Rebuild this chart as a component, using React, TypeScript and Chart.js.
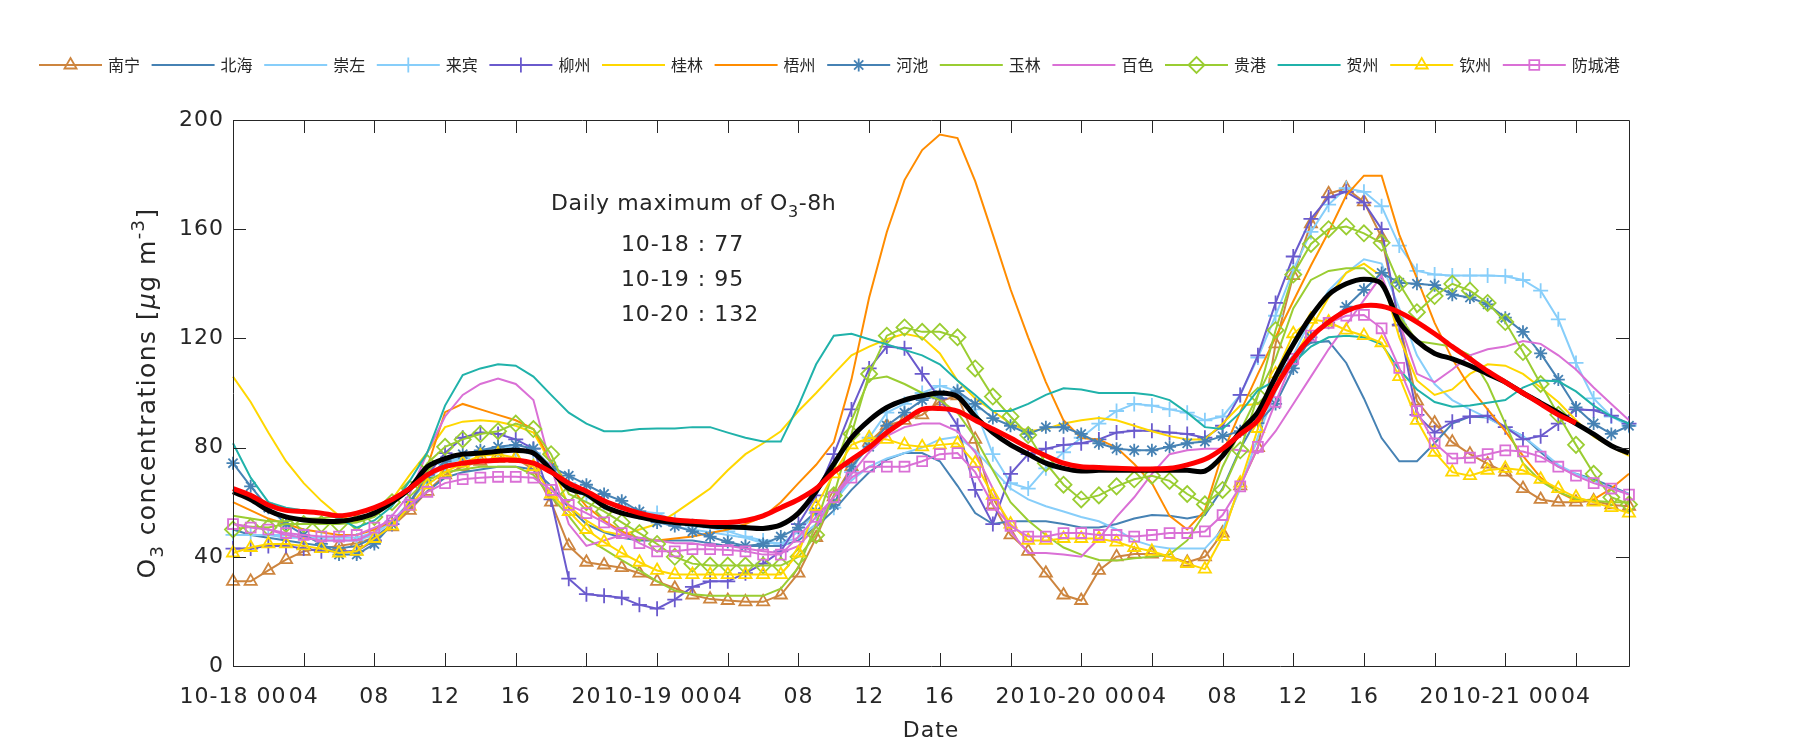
import React, { useEffect, useRef } from 'react';
import { Chart, registerables } from 'chart.js';
import { drawPoint } from 'chart.js/helpers';

Chart.register(...registerables);

// ---------------- DATA ----------------
const hours = Array.from({ length: 80 }, (_, i) => i); // 10-18 00 .. 10-21 07, hourly

const xTickHours = [0, 4, 8, 12, 16, 20, 24, 28, 32, 36, 40, 44, 48, 52, 56, 60, 64, 68, 72, 76];
const xTickLabels = ['10-18 00', '04', '08', '12', '16', '20', '10-19 00', '04', '08', '12', '16', '20',
  '10-20 00', '04', '08', '12', '16', '20', '10-21 00', '04'];
const yTickValues = [0, 40, 80, 120, 160, 200];

const stationNames = ['南宁', '北海', '崇左', '来宾', '柳州', '桂林', '梧州', '河池', '玉林', '百色', '贵港', '贺州', '钦州', '防城港'];

const nanning = [31, 31, 35, 39, 42, 43, 44, 45, 47, 51, 57,
  64, 70, 73, 75, 76, 76, 72, 60, 44,
  38, 37, 36, 34, 31, 28.5, 26, 24.5, 24, 23.5,
  23.5, 26, 34, 47, 62, 73, 82, 88, 90,
  92, 97, 99, 83, 59, 48, 42, 34, 26, 24,
  35, 40, 41, 41, 40, 38, 40, 48.7, 66, 80,
  118, 143, 162, 173, 175, 170, 157, 126, 97,
  89, 82, 77.6, 74, 71, 65, 61, 60, 60, 60.5, 59, 58.5];
const beihai = [50, 48, 47, 46, 45, 44, 43, 44, 47, 52, 58,
  64, 69, 71, 72, 73, 73, 72, 66, 58,
  52, 49, 47, 46, 46, 46, 46, 45, 44, 44,
  44, 44, 46, 51, 57, 64.5, 71, 75.6, 78,
  78, 75, 66, 56, 52, 53, 53, 53, 52, 50.7,
  50.7, 52, 54, 55.3, 55, 54, 55.3, 65, 79.6, 91,
  104.6, 113.8, 118.4, 119, 111, 98, 83.5, 75, 75,
  81.6, 88.8, 91.4, 91, 87.5, 84.2, 78.3, 73, 70.4, 68.4, 65.8, 63];
const chongzuo = [48, 48, 48, 47, 47, 47, 47, 47, 49, 53, 60,
  68, 74, 77, 79, 80, 80, 78, 72, 66,
  62, 58, 56, 54, 53, 51, 50, 49, 48, 47,
  45, 45, 47, 52, 60, 68, 73, 76, 78,
  80, 83, 84, 79, 72, 65, 61, 58.5, 56.6, 54.6,
  53, 50, 46, 44, 43, 43, 43, 50, 65, 84,
  100.6, 113.8, 127, 137.5, 144, 149, 147.4, 131, 113.8,
  103.3, 97.4, 94, 90.8, 87.5, 84.2, 79, 73.7, 70.4, 67.8, 65, 63];
const laibin = [48, 48, 48, 48, 47, 46, 46, 46, 48, 53, 60,
  68, 74, 76, 78, 79, 79, 78, 73, 67,
  63, 60, 58.5, 56.6, 56, 53.3, 51.3, 50.7, 49.3, 47.4,
  46, 44.7, 49.3, 56, 58, 71, 83.6, 92.8, 96,
  100, 102.6, 100.7, 94, 77.6, 67, 65, 72.4, 78.3, 83.6,
  88.8, 93.4, 96, 95.4, 94, 92.8, 90, 91.4, 99.3, 113,
  128.3, 145, 159, 169, 175, 173.7, 168.4, 154, 144.7,
  143.4, 143, 143, 143, 142.8, 141.4, 137.5, 127, 111, 98, 91.4, 88];
const liuzhou = [43, 43, 44, 44, 43, 42, 42, 42, 46, 52, 60,
  70, 78, 83.6, 85.5, 85, 83, 79.6, 61, 32,
  26.3, 25.7, 25, 22.4, 21, 24.3, 29, 31, 31, 34,
  37.5, 42, 52, 62.5, 77.6, 94, 109, 117, 116.4,
  107, 98, 88, 64.5, 52, 70.4, 77.6, 79.6, 81, 81.6,
  83, 85.5, 86.2, 86.2, 85.5, 85, 83.6, 88, 99.3, 113.8,
  133, 150, 163.8, 171.7, 173.7, 169.7, 160, 125, 92,
  85.5, 89.5, 91.4, 91.7, 87.5, 83, 84.2, 88.8, 94, 93.7, 91.7, 88.8];
const guilin = [106, 96.7, 85.5, 75, 67, 60.5, 55, 53, 56, 61, 70,
  78.3, 87.5, 89.5, 90, 89.5, 88, 85.5, 74.3, 58.5,
  53.3, 49.3, 48, 50, 52, 56, 60.5, 65, 71.7, 77.6,
  81.6, 86, 93.4, 100, 107, 113.8, 117, 119.7, 121.7,
  120.4, 114.5, 104.6, 98, 93.4, 88.8, 86, 86.8, 88.8, 90,
  90.8, 90, 88, 86, 84.2, 83, 83, 88.8, 95.4, 96,
  102, 112.5, 123.7, 135, 144, 147.4, 142.8, 120.4, 104.6,
  99.3, 101.3, 107, 110.5, 110, 107, 102, 96.7, 90, 84, 80.3, 77];
const wuzhou = [60, 57, 54, 52, 50, 49, 48, 48, 50, 53, 58,
  73, 93, 96, 94, 92, 90, 86.8, 75, 66.4,
  58.5, 53.3, 49.3, 46.7, 46, 46.7, 47.4, 48.7, 50, 52,
  54.6, 60, 67, 73.7, 82, 105, 135, 159, 178,
  189, 194.7, 193.4, 177.6, 158, 138, 120.4, 104, 90, 83.5,
  83, 80, 74, 67, 55, 50, 57, 78, 93, 107,
  120.4, 133.6, 146.7, 159, 172.4, 179.6, 179.6, 158, 142,
  125.7, 112.5, 102, 94, 86, 77, 69, 63.8, 60.5, 61, 65, 70.4];
const hechi = [74.3, 65.8, 58, 52, 48, 44.7, 40.8, 40.8, 44.7, 52, 60,
  69, 75, 77.6, 79, 80.3, 81, 79.6, 73, 69.7,
  66.4, 63, 60.5, 56.6, 52.6, 51.3, 49.3, 47.4, 45.4, 44,
  44.7, 47.4, 50.7, 56.6, 59, 73, 80.3, 88, 92.8,
  97.4, 99.3, 100.7, 96, 90.8, 88, 85, 87.5, 87.5, 85,
  81.6, 79.6, 79, 79, 80.3, 81.6, 82.2, 84.2, 86, 89,
  96, 109, 120.4, 125.7, 131.6, 137.8, 144, 140.4, 140,
  139.5, 136, 135, 132.5, 127.6, 122.4, 114.5, 104.9, 94.7, 88.8, 85, 88];
const yulin = [55, 54, 53, 53, 54, 54, 55, 56, 58, 61, 65,
  68, 71, 72, 73, 73, 73, 70, 62, 55,
  46.7, 42.8, 38.8, 35, 31, 27.6, 26.3, 25.7, 25.7, 25.7,
  25.7, 28.3, 36, 52, 71.7, 90, 105, 106, 103.3,
  100, 97.4, 92.8, 83.6, 71.7, 60, 53.3, 48, 43.4, 40.8,
  38.8, 38.6, 39.5, 40, 40.8, 46, 56, 73, 86, 99.3,
  112.5, 131, 141.4, 144.7, 145.7, 145.7, 140, 128.3, 119,
  118, 117, 113.8, 103.3, 88.8, 74.3, 67.8, 63.8, 61.2, 60.5, 60, 60];
const baise = [52, 51, 50, 48, 47, 46, 46, 46, 49, 55, 63,
  78.3, 91.4, 99.3, 103.3, 105.3, 103.3, 97.4, 73, 52,
  44, 46, 48, 47, 46, 45, 45, 44, 44, 43,
  42, 41.4, 44, 51, 62.5, 70.4, 78.3, 84.2, 87.5,
  88.8, 88.8, 86, 78.3, 65, 49.3, 41.4, 41.4, 40.8, 40,
  46.7, 54.6, 61.8, 70.4, 77.6, 79, 79.6, 79.6, 79, 78,
  86, 96, 106, 116, 125, 134, 143, 126, 107,
  104, 108.6, 113.8, 116, 117, 119, 118, 113.8, 108.6, 102, 96, 90];
const guigang = [50, 51, 50.7, 52, 52, 52, 52, 52.6, 54.6, 60, 65,
  74.3, 80.3, 83, 85, 86, 88.8, 86.8, 77.6, 63,
  60, 56.6, 52.6, 48.7, 44.7, 40, 37.5, 36.8, 36.8, 36.8,
  36.8, 36.8, 40, 48, 62.5, 85, 107, 121, 124,
  122.4, 122.4, 120.4, 109, 98.7, 91.4, 84.6, 74.3, 66.4, 61,
  62.5, 65.8, 68.4, 69.7, 67.8, 63, 59.2, 64.5, 79, 99,
  123, 143.4, 154.6, 160, 161, 158.5, 155, 140, 129.6,
  135.5, 140, 137.5, 133, 126, 115, 103.3, 92, 81, 70.4, 61.8, 59.2];
const hezhou = [81.6, 69, 60, 58, 57, 56, 54, 50.7, 53.3, 58.5, 67.8,
  78.3, 95.4, 106.6, 109, 110.5, 110, 106, 99.3, 92.8,
  88.8, 86, 86, 86.8, 87, 87, 87.5, 87.5, 85.5, 83.6,
  82.2, 82.2, 95.4, 110.5, 121, 121.7, 119.7, 117.8, 115.8,
  113.8, 110.5, 104.6, 99.3, 93.4, 93.4, 96, 99.3, 101.7, 101.3,
  100, 100, 100, 99.3, 97.4, 92.8, 87.5, 86.8, 92.8, 101,
  104.6, 111, 117, 120.4, 121, 120.4, 117.8, 108.6, 101.3,
  96.7, 95, 95.4, 96.4, 97.4, 102, 104.6, 104.3, 100.6, 95.4, 91.4, 88.8];
const qinzhou = [41.4, 43.4, 44.7, 44.7, 44, 43, 41.4, 42, 46.7, 51.3, 58.5,
  66.4, 71, 74.3, 77, 77.6, 76.3, 73, 63, 56.6,
  50, 45.4, 41.4, 38, 35, 33.5, 33.5, 33.5, 33.5, 33.5,
  33.5, 33.5, 41.4, 58.5, 70.4, 81, 83.6, 83, 81,
  80.3, 81, 81.6, 74.3, 62.5, 52, 46, 46, 46.7, 46.7,
  46.7, 45.4, 43.4, 42, 40, 37.5, 35.5, 47.4, 67, 87,
  107, 121.7, 127, 126, 123, 121, 118.4, 106, 90,
  78.3, 71, 69.7, 71.7, 72.4, 71.7, 68.4, 65, 61.8, 60, 58, 56];
const fangchenggang = [52, 50.7, 50, 48.7, 48, 47.4, 47.4, 48, 50.7, 53.3, 59,
  63.8, 67, 68.4, 69, 69.3, 69.3, 69, 64.5, 59,
  56, 52.6, 48.7, 45, 42, 42, 42.8, 42.8, 42.5, 42,
  40.8, 40.8, 47.4, 54.6, 61.8, 69, 73, 73, 73,
  75, 77.6, 78, 71, 59, 51.3, 47.4, 47.4, 48.7, 48.7,
  48, 48, 47.4, 48, 48.7, 48.7, 49.3, 55.3, 65.8, 80.3,
  96.7, 112.5, 121, 125.7, 128.3, 128.6, 123.7, 109.2, 93.4,
  81.6, 76, 76.3, 77.6, 79, 78.6, 76.7, 73, 69.7, 67, 65, 62.8];
const blackSeries = [63.8, 61, 57, 54.6, 53.5, 53, 53, 54, 56, 60, 65,
  73, 76, 77.6, 78, 78.7, 79, 78, 71.7, 65,
  63, 58.5, 56, 54.6, 53.3, 52.6, 52, 51.3, 51, 50.7,
  50.4, 51.7, 56, 64, 74, 83.6, 90, 94.7, 97.4,
  99, 100, 98.7, 91.4, 85.5, 81, 77.6, 74.3, 72.4, 71.4,
  71.7, 71.7, 71.7, 71.7, 71.7, 71.7, 71.4, 77, 86, 93,
  106, 117.8, 128, 136, 140, 141.7, 140, 126, 119,
  114.5, 112.5, 110, 107, 104, 100, 96.4, 92.8, 88.8, 84.9, 80.7, 78];
const redSeries = [65, 62.5, 59, 57, 56.6, 56, 55, 56, 58, 61, 65,
  70, 73, 74.3, 75, 75.4, 75.4, 74.3, 71, 67,
  64, 60.5, 58, 56, 54.6, 53.5, 53, 52.6, 52.6, 53.3,
  55, 58, 61, 65, 71, 75.6, 80, 85.5, 90,
  94, 94.3, 93.4, 90, 86.8, 83.5, 80, 77, 74.3, 73,
  72.7, 72.4, 72.2, 72.2, 72.4, 73.7, 75.7, 79.6, 84.9, 90,
  102, 112.5, 120.4, 126, 130, 132, 131.8, 129.6, 126,
  121.7, 117, 112.5, 108, 104, 100, 96, 92, 89, null, null, null];

const annotationLines = ['10-18 : 77', '10-19 : 95', '10-20 : 132'];

// ---------------- STYLES ----------------
const FONT = "'DejaVu Sans', 'Noto Sans', sans-serif";
const CJK_FONT = "'Noto Sans CJK SC', 'DejaVu Sans', sans-serif";
const TEXT = '#262626';
const TICK_SPACING = '1px';

const stationValues = [nanning, beihai, chongzuo, laibin, liuzhou, guilin, wuzhou, hechi, yulin, baise, guigang, hezhou, qinzhou, fangchenggang];
const stationStyles = [
  { color: '#CD853F', marker: 'triangle', radius: 7 },
  { color: '#4682B4', marker: null, radius: 0 },
  { color: '#87CEFA', marker: null, radius: 0 },
  { color: '#87CEFA', marker: 'cross', radius: 7.5 },
  { color: '#6A5ACD', marker: 'cross', radius: 7.5 },
  { color: '#FFD700', marker: null, radius: 0 },
  { color: '#FF8C00', marker: null, radius: 0 },
  { color: '#4682B4', marker: 'star', radius: 6.5 },
  { color: '#9ACD32', marker: null, radius: 0 },
  { color: '#DA70D6', marker: null, radius: 0 },
  { color: '#9ACD32', marker: 'rectRot', radius: 8 },
  { color: '#20B2AA', marker: null, radius: 0 },
  { color: '#FFD700', marker: 'triangle', radius: 7 },
  { color: '#DA70D6', marker: 'rect', radius: 7 },
];

function drawRich(ctx: any, parts: any[], x: number, y: number, align: string, spacing: string) {
  ctx.letterSpacing = spacing;
  let total = 0;
  const widths = parts.map((p) => {
    ctx.font = `${p.italic ? 'italic ' : ''}${p.size}px ${FONT}`;
    const w = ctx.measureText(p.text).width;
    total += w;
    return w;
  });
  let cx = align === 'center' ? x - total / 2 : x;
  ctx.textAlign = 'left';
  ctx.textBaseline = 'alphabetic';
  parts.forEach((p, i) => {
    ctx.font = `${p.italic ? 'italic ' : ''}${p.size}px ${FONT}`;
    ctx.fillText(p.text, cx, y + (p.dy || 0));
    cx += widths[i];
  });
}

const framePlugin = {
  id: 'frameAndText',
  beforeUpdate(chart: any) { chart.ctx.letterSpacing = TICK_SPACING; },
  beforeDraw(chart: any) { chart.ctx.letterSpacing = TICK_SPACING; },
  afterDatasetsDraw(chart: any) {
    const { ctx, chartArea } = chart;
    const { left, right, top, bottom } = chartArea;
    const xs = chart.scales.x;
    const ys = chart.scales.y;
    ctx.save();
    ctx.strokeStyle = TEXT;
    ctx.lineWidth = 1;
    ctx.beginPath();
    ctx.rect(Math.round(left) + 0.5, Math.round(top) + 0.5, Math.round(right - left), Math.round(bottom - top));
    ctx.stroke();
    const TL = 13;
    ctx.beginPath();
    xTickHours.forEach((h) => {
      const px = Math.round(xs.getPixelForValue(h)) + 0.5;
      ctx.moveTo(px, bottom); ctx.lineTo(px, bottom - TL);
      ctx.moveTo(px, top); ctx.lineTo(px, top + TL);
    });
    yTickValues.forEach((v) => {
      const py = Math.round(ys.getPixelForValue(v)) + 0.5;
      ctx.moveTo(left, py); ctx.lineTo(left + TL, py);
      ctx.moveTo(right, py); ctx.lineTo(right - TL, py);
    });
    ctx.stroke();

    // annotation
    ctx.fillStyle = TEXT;
    const ax = xs.getPixelForValue(18);
    const ay = ys.getPixelForValue(169.8) + 8;
    drawRich(ctx, [
      { text: 'Daily maximum of O', size: 22 },
      { text: '3', size: 16, dy: 7 },
      { text: '-8h', size: 22 },
    ], ax, ay, 'left', '0.6px');
    const lx = xs.getPixelForValue(21.95);
    const lineVals = [155, 142.2, 129.3];
    annotationLines.forEach((t, i) => {
      drawRich(ctx, [{ text: t, size: 22 }], lx, ys.getPixelForValue(lineVals[i]) + 8, 'left', '1px');
    });

    // y axis title
    ctx.translate(146, (top + bottom) / 2);
    ctx.rotate(-Math.PI / 2);
    drawRich(ctx, [
      { text: 'O', size: 25 },
      { text: '3', size: 18, dy: 8 },
      { text: ' concentrations [', size: 25 },
      { text: 'μ', size: 25, italic: true },
      { text: 'g m', size: 25 },
      { text: '-3', size: 18, dy: -11 },
      { text: ']', size: 25 },
    ], 0, 9, 'center', '1.4px');
    ctx.restore();
  },
  afterDraw(chart: any) {
    const ctx = chart.ctx;
    ctx.save();
    ctx.letterSpacing = '0px';
    const X0 = 39, STEP = 112.6, Y = 65, LEN = 63;
    stationNames.forEach((name, i) => {
      const s = stationStyles[i];
      const x0 = X0 + i * STEP;
      ctx.strokeStyle = s.color;
      ctx.lineWidth = 2;
      ctx.beginPath();
      ctx.moveTo(x0, Y);
      ctx.lineTo(x0 + LEN, Y);
      ctx.stroke();
      if (s.marker) {
        ctx.fillStyle = 'rgba(0,0,0,0)';
        ctx.lineWidth = 1.8;
        drawPoint(ctx, { pointStyle: s.marker, radius: s.radius, rotation: 0, borderWidth: 1.8 } as any, x0 + LEN / 2, Y);
      }
      ctx.fillStyle = TEXT;
      ctx.font = `16px ${CJK_FONT}`;
      ctx.textAlign = 'left';
      ctx.textBaseline = 'middle';
      ctx.fillText(name, x0 + LEN + 6, Y);
    });
    ctx.restore();
  },
};

export default function App() {
  const ref = useRef<HTMLCanvasElement | null>(null);
  useEffect(() => {
    if (!ref.current) return;
    const toPts = (arr: (number | null)[]) => arr.map((v, j) => ({ x: hours[j], y: v }));
    const stationSets = stationNames.map((name, i) => {
      const s = stationStyles[i];
      return {
        label: name,
        data: toPts(stationValues[i]),
        borderColor: s.color,
        backgroundColor: 'rgba(0,0,0,0)',
        borderWidth: 2,
        pointStyle: s.marker || 'circle',
        pointRadius: s.marker ? s.radius : 0,
        pointBorderWidth: 1.8,
        pointBorderColor: s.color,
        pointBackgroundColor: 'rgba(0,0,0,0)',
        fill: false,
        tension: 0,
        clip: false,
      };
    });
    const all: any[] = [
      ...stationSets,
      { label: 'mean', data: toPts(blackSeries), borderColor: '#000000', borderWidth: 5, pointRadius: 0, fill: false, tension: 0.3, clip: false },
      { label: 'smooth', data: toPts(redSeries), borderColor: '#FF0000', borderWidth: 5, pointRadius: 0, fill: false, tension: 0.3, clip: false, spanGaps: false },
    ];
    const n = all.length;
    all.forEach((d, i) => { d.order = n - i; });

    const chart = new Chart(ref.current, {
      type: 'line',
      data: { datasets: all },
      options: {
        animation: false,
        responsive: false,
        devicePixelRatio: 1,
        layout: { padding: { top: 120, right: 171, bottom: 0, left: 0 } },
        plugins: { legend: { display: false }, tooltip: { enabled: false }, title: { display: false } },
        scales: {
          x: {
            type: 'linear',
            min: 0,
            max: 79,
            grid: { display: false, drawTicks: false },
            border: { display: false },
            afterBuildTicks: (scale: any) => { scale.ticks = xTickHours.map((v) => ({ value: v })); },
            afterFit: (scale: any) => { scale.height = 84; },
            ticks: {
              autoSkip: false,
              maxRotation: 0,
              minRotation: 0,
              padding: 18,
              color: TEXT,
              font: { family: FONT, size: 22 },
              callback: (v: any) => { const k = xTickHours.indexOf(Number(v)); return k >= 0 ? xTickLabels[k] : ''; },
            },
            title: { display: true, text: 'Date', color: TEXT, font: { family: FONT, size: 22 }, padding: { top: 0, bottom: 6 } },
          },
          y: {
            type: 'linear',
            min: 0,
            max: 200,
            grid: { display: false, drawTicks: false },
            border: { display: false },
            afterBuildTicks: (scale: any) => { scale.ticks = yTickValues.map((v) => ({ value: v })); },
            afterFit: (scale: any) => { scale.width = 233; },
            ticks: { padding: 9, color: TEXT, font: { family: FONT, size: 22 } },
          },
        },
      } as any,
      plugins: [framePlugin],
    });
    return () => chart.destroy();
  }, []);
  return (
    <div style={{ position: 'absolute', left: 0, top: 0, width: 1800, height: 750, background: '#fff' }}>
      <canvas ref={ref} width={1800} height={750} style={{ width: 1800, height: 750, display: 'block' }} />
    </div>
  );
}
